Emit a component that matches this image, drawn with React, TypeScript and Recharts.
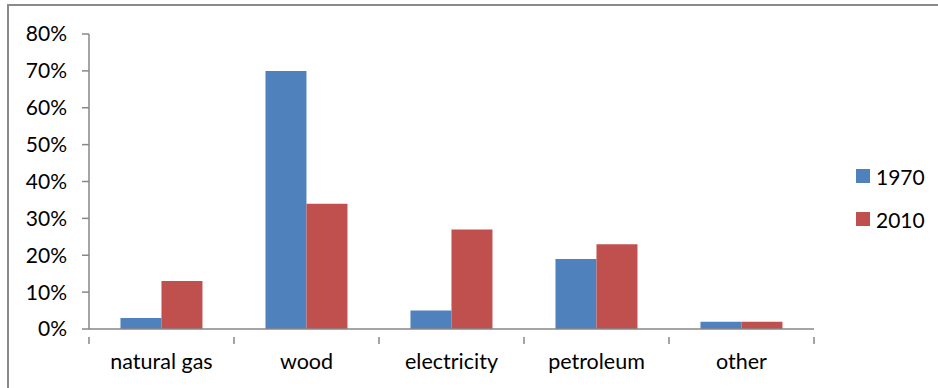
import React from 'react';
import { BarChart, Bar, XAxis, YAxis } from 'recharts';

const categories = ['natural gas', 'wood', 'electricity', 'petroleum', 'other'];
const share1970 = [3, 70, 5, 19, 2];
const share2010 = [13, 34, 27, 23, 2];
const yTicks = [0, 10, 20, 30, 40, 50, 60, 70, 80];

const SERIES = [
  { key: 'y1970', name: '1970', color: '#4F81BD' },
  { key: 'y2010', name: '2010', color: '#C0504D' },
];

const data = categories.map((name, i) => ({
  name,
  y1970: share1970[i],
  y2010: share2010[i],
}));

const AXIS = '#878787';
const FONT = 'Lato, "Liberation Sans", sans-serif';

// category ticks: label in the middle, tick marks on the band edges
const CategoryTick = (props: any) => {
  const { x, y, payload, index } = props;
  const half = payload.offset || 0;
  const last = index === categories.length - 1;
  return (
    <g>
      <line x1={x - half} y1={y} x2={x - half} y2={y + 7} stroke={AXIS} strokeWidth={1.5} />
      {last && <line x1={x + half} y1={y} x2={x + half} y2={y + 7} stroke={AXIS} strokeWidth={1.5} />}
      <text x={x} y={y + 17} dy="0.71em" textAnchor="middle" fill="#000" fontSize={21.5} fontFamily={FONT}>
        {payload.value}
      </text>
    </g>
  );
};

export default function App() {
  return (
    <div style={{ position: 'fixed', left: 0, top: 0, width: 938, height: 388, background: '#fff', overflow: 'hidden' }}>
      <div
        style={{
          position: 'absolute',
          left: 7,
          top: 4,
          width: 960,
          height: 420,
          borderLeft: '2px solid #8a8a8a',
          borderTop: '2px solid #8a8a8a',
        }}
      />
      <BarChart
        width={938}
        height={388}
        data={data}
        margin={{ top: 34, right: 124, bottom: 0, left: 0 }}
        barCategoryGap="21.7%"
        barGap={0}
      >
        <XAxis
          dataKey="name"
          height={59}
          axisLine={{ stroke: AXIS, strokeWidth: 1.5 }}
          tickLine={false}
          tick={<CategoryTick />}
          interval={0}
        />
        <YAxis
          width={89}
          domain={[0, 80]}
          ticks={yTicks}
          interval={0}
          tickFormatter={(v: number) => `${v}%`}
          axisLine={{ stroke: AXIS, strokeWidth: 1.5 }}
          tickLine={{ stroke: AXIS, strokeWidth: 1.5 }}
          tickSize={7}
          tickMargin={15}
          tick={{ fill: '#000', fontSize: 21, fontFamily: FONT }}
        />
        {SERIES.map((s) => (
          <Bar key={s.key} dataKey={s.key} name={s.name} fill={s.color} isAnimationActive={false} />
        ))}
      </BarChart>
      {/* legend on the right */}
      <div style={{ position: 'absolute', left: 856, top: 163, fontFamily: FONT, fontSize: 21, color: '#000' }}>
        {SERIES.map((s) => (
          <div key={s.key} style={{ display: 'flex', alignItems: 'center', height: 26, marginBottom: 17 }}>
            <span style={{ width: 14, height: 14, background: s.color, display: 'inline-block', marginRight: 6 }} />
            <span>{s.name}</span>
          </div>
        ))}
      </div>
    </div>
  );
}
